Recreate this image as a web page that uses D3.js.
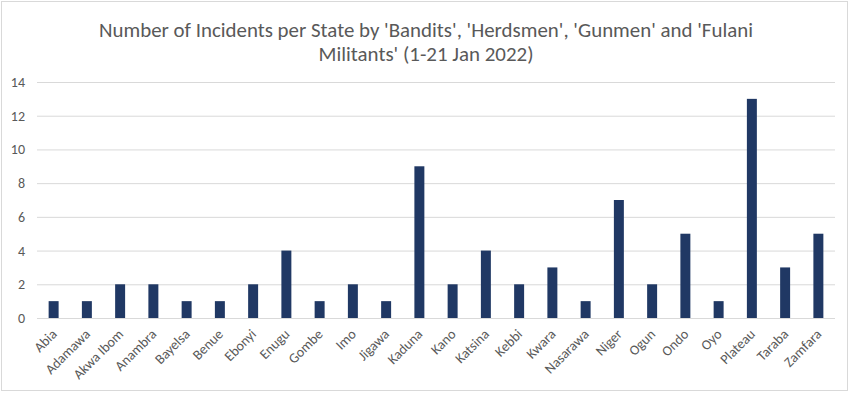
<!DOCTYPE html>
<html><head><meta charset="utf-8">
<script src="https://cdn.jsdelivr.net/npm/d3@7"></script>
<style>body{margin:0;background:#fff}svg{display:block}</style>
</head><body><svg id="c" width="853" height="394"></svg>
<script>
const categories = ["Abia","Adamawa","Akwa Ibom","Anambra","Bayelsa","Benue","Ebonyi","Enugu","Gombe","Imo","Jigawa","Kaduna","Kano","Katsina","Kebbi","Kwara","Nasarawa","Niger","Ogun","Ondo","Oyo","Plateau","Taraba","Zamfara"];
const values = [1,1,2,2,1,1,2,4,1,2,1,9,2,4,2,3,1,7,2,5,1,13,3,5];
const yTicks = [0,2,4,6,8,10,12,14];
const titleLines = ["Number of Incidents per State by 'Bandits', 'Herdsmen', 'Gunmen' and 'Fulani", "Militants' (1-21 Jan 2022)"];

const svg = d3.select("#c");
const font = "Carlito, 'Liberation Sans', 'DejaVu Sans', sans-serif";
svg.append("rect").attr("x",1.5).attr("y",1.5).attr("width",846).attr("height",389)
  .attr("fill","#fff").attr("stroke","#d9d9d9").attr("stroke-width",1);

const x = d3.scaleBand().domain(categories).range([37,835]).paddingInner(0.7).paddingOuter(0.35);
const y = d3.scaleLinear().domain([0,14]).range([318,82]);

const ya = svg.append("g").attr("transform","translate(37,0)")
  .call(d3.axisLeft(y).tickValues(yTicks).tickSize(-798).tickPadding(12));
ya.select(".domain").remove();
ya.selectAll(".tick line").attr("stroke","#d9d9d9").attr("stroke-width",1);
ya.selectAll(".tick text").attr("fill","#595959").style("font-family",font).style("font-size","14px");

svg.append("g").selectAll("rect").data(values).join("rect")
  .attr("x",(d,i)=>x(categories[i])).attr("width",x.bandwidth())
  .attr("y",d=>y(d)).attr("height",d=>y(0)-y(d)).attr("fill","#203864");

const xa = svg.append("g").attr("transform","translate(0,318)")
  .call(d3.axisBottom(x).tickSize(0));
xa.select(".domain").remove();
xa.selectAll(".tick text").attr("fill","#595959").style("font-family",font).style("font-size","14px")
  .attr("text-anchor","end").attr("dy",0).attr("x",0).attr("y",0)
  .attr("transform","translate(4,17) rotate(-45)");

const tw = [654, 215];
svg.append("g").selectAll("text").data(titleLines).join("text")
  .attr("x",426).attr("y",(d,i)=>37+i*24).attr("text-anchor","middle")
  .attr("fill","#595959").style("font-family",font).style("font-size","21px")
  .attr("textLength",(d,i)=>tw[i]).attr("lengthAdjust","spacingAndGlyphs")
  .text(d=>d);
</script></body></html>
